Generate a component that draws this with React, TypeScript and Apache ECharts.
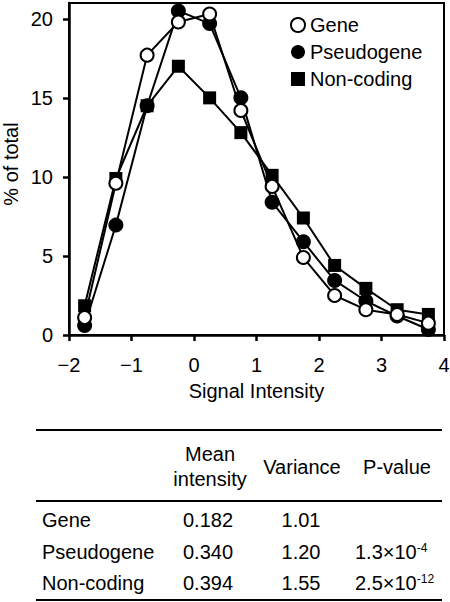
import React, { useEffect, useRef } from "react";
import * as echarts from "echarts";

const xValues = [-1.75, -1.25, -0.75, -0.25, 0.25, 0.75, 1.25, 1.75, 2.25, 2.75, 3.25, 3.75];
const gene = [1.1, 9.6, 17.7, 19.8, 20.3, 14.2, 9.4, 4.9, 2.5, 1.6, 1.3, 0.75];
const pseudogene = [0.6, 6.95, 14.5, 20.5, 19.7, 15.0, 8.4, 5.9, 3.45, 2.15, 1.2, 0.35];
const nonCoding = [1.85, 9.9, 14.5, 17.0, 15.0, 12.8, 10.1, 7.4, 4.4, 2.95, 1.6, 1.3];

const yTicks = [0, 5, 10, 15, 20];

const tableRows = ["Gene", "Pseudogene", "Non-coding"];
const meanIntensity = ["0.182", "0.340", "0.394"];
const variance = ["1.01", "1.20", "1.55"];
const pBase = ["", "1.3×10", "2.5×10"];
const pExp = ["", "-4", "-12"];

const FONT = "'Liberation Sans', Arial, sans-serif";

export default function App() {
  const ref = useRef<HTMLDivElement>(null);
  useEffect(() => {
    if (!ref.current) return;
    const chart = echarts.init(ref.current, null, { renderer: "svg" });
    const pts = (ys: number[]) => xValues.map((x, i) => [x, ys[i]]);

    const rowY = [520, 552, 583];
    const textStyle = (extra: any) => ({
      fill: "#000",
      fontSize: 20,
      fontFamily: FONT,
      verticalAlign: "middle",
      ...extra,
    });
    const graphics: any[] = [
      { type: "line", shape: { x1: 36, y1: 430, x2: 442, y2: 430 }, style: { stroke: "#000", lineWidth: 2 } },
      { type: "line", shape: { x1: 36, y1: 501, x2: 442, y2: 501 }, style: { stroke: "#000", lineWidth: 2 } },
      { type: "line", shape: { x1: 36, y1: 600, x2: 442, y2: 600 }, style: { stroke: "#000", lineWidth: 2 } },
      { type: "text", style: textStyle({ text: "Mean\nintensity", x: 210, y: 466, textAlign: "center", lineHeight: 25 }) },
      { type: "text", style: textStyle({ text: "Variance", x: 302, y: 467, textAlign: "center" }) },
      { type: "text", style: textStyle({ text: "P-value", x: 397, y: 467, textAlign: "center" }) },
    ];
    tableRows.forEach((r, i) => {
      graphics.push({ type: "text", style: textStyle({ text: r, x: 42, y: rowY[i], textAlign: "left" }) });
      graphics.push({ type: "text", style: textStyle({ text: meanIntensity[i], x: 208, y: rowY[i], textAlign: "center" }) });
      graphics.push({ type: "text", style: textStyle({ text: variance[i], x: 301, y: rowY[i], textAlign: "center" }) });
      if (pBase[i]) {
        graphics.push({
          type: "text",
          style: textStyle({
            text: pBase[i] + "{s|" + pExp[i] + "}",
            x: 355,
            y: rowY[i],
            textAlign: "left",
            rich: { s: { fontSize: 12, fontFamily: FONT, fill: "#000", verticalAlign: "top", lineHeight: 20 } },
          }),
        });
      }
    });

    chart.setOption({
      animation: false,
      textStyle: { fontFamily: FONT, color: "#000" },
      grid: {
        left: 69,
        top: 3,
        right: 6,
        bottom: 267,
        show: true,
        borderColor: "#000",
        borderWidth: 2,
        containLabel: false,
        outerBoundsMode: "none",
      },
      legend: {
        orient: "vertical",
        left: 285,
        top: 10,
        itemWidth: 14,
        itemHeight: 14,
        itemGap: 7,
        textStyle: { fontSize: 20, color: "#000", fontFamily: FONT },
        data: [
          { name: "Gene", icon: "circle", itemStyle: { color: "#fff", borderColor: "#000", borderWidth: 2 } },
          { name: "Pseudogene", icon: "circle", itemStyle: { color: "#000", borderWidth: 0 } },
          { name: "Non-coding", icon: "rect", itemStyle: { color: "#000", borderWidth: 0 } },
        ],
      },
      xAxis: {
        type: "value",
        min: -2,
        max: 4,
        interval: 1,
        name: "Signal Intensity",
        nameLocation: "middle",
        nameGap: 46,
        nameMoveOverlap: false,
        nameTextStyle: { fontSize: 20, color: "#000", fontFamily: FONT },
        axisLine: { show: true, onZero: false, lineStyle: { color: "#000", width: 2.5 } },
        axisTick: { show: true, length: 6, lineStyle: { color: "#000", width: 2.5 } },
        axisLabel: {
          fontSize: 20,
          color: "#000",
          margin: 20,
          formatter: (v: number) => (v < 0 ? "\u2212" + Math.abs(v) : String(v)),
        },
        splitLine: { show: false },
      },
      yAxis: {
        type: "value",
        position: "left",
        min: 0,
        max: 21,
        interval: 5,
        name: "% of total",
        nameLocation: "middle",
        nameGap: 48,
        nameMoveOverlap: false,
        nameRotate: 90,
        nameTextStyle: { fontSize: 20, color: "#000", fontFamily: FONT, padding: [0, 0, 0, 10] },
        axisLine: { show: true, onZero: false, lineStyle: { color: "#000", width: 2.5 } },
        axisTick: { show: true, length: 6, customValues: yTicks, lineStyle: { color: "#000", width: 2.5 } },
        axisLabel: {
          fontSize: 20,
          color: "#000",
          margin: 16,
          align: "right",
          showMaxLabel: false,
          formatter: (v: number) => (yTicks.indexOf(v) >= 0 ? String(v) : ""),
        },
        splitLine: { show: false },
      },
      series: [
        {
          name: "Non-coding",
          type: "line",
          data: pts(nonCoding),
          symbol: "rect",
          symbolSize: 13,
          lineStyle: { color: "#000", width: 2 },
          itemStyle: { color: "#000", borderWidth: 0 },
        },
        {
          name: "Pseudogene",
          type: "line",
          data: pts(pseudogene),
          symbol: "circle",
          symbolSize: 15,
          lineStyle: { color: "#000", width: 2 },
          itemStyle: { color: "#000", borderWidth: 0 },
        },
        {
          name: "Gene",
          type: "line",
          data: pts(gene),
          symbol: "circle",
          symbolSize: 13,
          showAllSymbol: true,
          lineStyle: { color: "#000", width: 2 },
          itemStyle: { color: "#fff", borderColor: "#000", borderWidth: 2 },
        },
      ],
      graphic: graphics,
    });
    return () => chart.dispose();
  }, []);
  return <div ref={ref} style={{ position: "absolute", left: 0, top: 0, width: 450, height: 602 }} />;
}
